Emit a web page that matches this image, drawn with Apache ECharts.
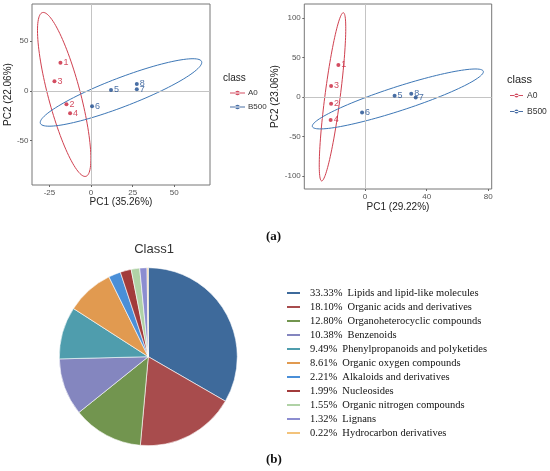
<!DOCTYPE html>
<html>
<head>
<meta charset="utf-8">
<script src="https://cdn.jsdelivr.net/npm/echarts@6/dist/echarts.min.js"></script>
<style>html,body{margin:0;padding:0;background:#fff}#c{width:550px;height:471px}</style>
</head>
<body>
<div id="c"></div>
<script>
// ---- Data: PCA panel 1 (left) ----
const pca1A0 = [[-18.4, 28.5, '1'], [-22, 9.7, '3'], [-14.8, -13.4, '2'], [-12.6, -22.4, '4']];
const pca1B500 = [[0.6, -15.4, '6'], [12, 1, '5'], [27.5, 7, '8'], [27.5, 1.7, '7']];
// ellipse: [centerX, centerY, uX, uY, vX, vY] (conjugate half-diameters)
const pca1Ellipses = [[-16.15, -3.5, -12.55, 82.5, 10, 0], [18, -1.5, 48.55, 30.2, 0, 15.5]];
const pca1XTicks = [-25, 0, 25, 50];
const pca1YTicks = [-50, 0, 50];
const pca1Range = [-35.5, 71.5, -94.6, 87.5];

// ---- Data: PCA panel 2 (right) ----
const pca2A0 = [[-17.3, 40.5, '1'], [-22, 13.9, '3'], [-22, -8.5, '2'], [-22.3, -29, '4']];
const pca2B500 = [[-1.9, -19.8, '6'], [19.2, 1.7, '5'], [30, 4.2, '8'], [32.9, -0.8, '7']];
const pca2Ellipses = [[-21.1, 0.2, 7, 106.5, 5, 0], [21.3, -2.5, 55.5, 34.4, 0, 16]];
const pca2XTicks = [0, 40, 80];
const pca2YTicks = [-100, -50, 0, 50, 100];
const pca2Range = [-39.4, 82.2, -116.5, 117.7];

// ---- Data: pie ----
const classNames = ['Lipids and lipid-like molecules', 'Organic acids and derivatives', 'Organoheterocyclic compounds',
  'Benzenoids', 'Phenylpropanoids and polyketides', 'Organic oxygen compounds', 'Alkaloids and derivatives',
  'Nucleosides', 'Organic nitrogen compounds', 'Lignans', 'Hydrocarbon derivatives'];
const classShares = [33.33, 18.10, 12.80, 10.38, 9.49, 8.61, 2.21, 1.99, 1.55, 1.32, 0.22];

// ---- Styles ----
const pieColors = ['#3E6A9B', '#A84C4D', '#72954F', '#8486BF', '#4F9DAD', '#E19A50', '#4A8FD8', '#A23B3B', '#B0D2A6', '#8C8DD0', '#F3C37B'];
const redPt = '#C8203A', bluePt = '#1B4B8E', redEl = '#D0404F', blueEl = '#3D77B6';
const sans = 'Liberation Sans, Arial, sans-serif';

const chart = echarts.init(document.getElementById('c'), null, {renderer: 'canvas'});

function ellipseItem(params, api) {
  const cx = api.value(0), cy = api.value(1), ux = api.value(2), uy = api.value(3), vx = api.value(4), vy = api.value(5);
  const pts = [];
  for (let i = 0; i <= 120; i++) {
    const t = i / 120 * Math.PI * 2;
    pts.push(api.coord([cx + Math.cos(t) * ux + Math.sin(t) * vx, cy + Math.cos(t) * uy + Math.sin(t) * vy]));
  }
  return {type: 'polyline', shape: {points: pts}, style: {fill: null, stroke: api.visual('color'), lineWidth: 1}};
}

function axis(idx, mn, mx, ticks, name, nameGap) {
  return {gridIndex: idx, type: 'value', min: mn, max: mx, name: name, nameLocation: 'middle', nameGap: nameGap,
    nameTextStyle: {fontFamily: sans, fontSize: 10, color: '#222'},
    axisLine: {show: false, onZero: false}, splitLine: {show: false},
    axisTick: {show: true, length: 2, customValues: ticks, lineStyle: {color: '#666'}},
    axisLabel: {customValues: ticks, fontFamily: sans, fontSize: 8, color: '#555', margin: 3.5}};
}
function pts(name, data, color, xi, range) {
  const s = {name: name, type: 'scatter', xAxisIndex: xi, yAxisIndex: xi, data: data, symbol: 'circle', symbolSize: 4,
    itemStyle: {color: color}, z: 5,
    label: {show: true, position: 'right', distance: 1, formatter: p => p.data[2], fontFamily: sans, fontSize: 9, color: color}};
  if (range) {
    s.markLine = {silent: true, symbol: ['none', 'none'], label: {show: false}, animation: false,
      lineStyle: {color: '#c4c4c4', width: 1, type: 'solid'},
      data: [[{coord: [0, range[2]]}, {coord: [0, range[3]]}], [{coord: [range[0], 0]}, {coord: [range[1], 0]}]]};
  }
  return s;
}
function ell(data, xi, colors) {
  return {type: 'custom', xAxisIndex: xi, yAxisIndex: xi, renderItem: ellipseItem, z: 3, silent: true,
    data: data.map((d, i) => ({value: d, itemStyle: {color: colors[i]}})), clip: true};
}
const legendIcon = 'path://M0,3.5 L16,3.5 L16,4.5 L0,4.5 Z M5.5,4 A2.5,2.5 0 1,0 10.5,4 A2.5,2.5 0 1,0 5.5,4 Z';

const option = {
  animation: false,
  color: pieColors,
  grid: [
    {left: 32, top: 4, width: 178, height: 181, show: true, borderColor: '#777', borderWidth: 1, backgroundColor: '#fff'},
    {left: 304.3, top: 4, width: 187.4, height: 185, show: true, borderColor: '#777', borderWidth: 1, backgroundColor: '#fff'}
  ],
  xAxis: [axis(0, pca1Range[0], pca1Range[1], pca1XTicks, 'PC1 (35.26%)', 11), axis(1, pca2Range[0], pca2Range[1], pca2XTicks, 'PC1 (29.22%)', 13)],
  yAxis: [axis(0, pca1Range[2], pca1Range[3], pca1YTicks, 'PC2 (22.06%)', 19), axis(1, pca2Range[2], pca2Range[3], pca2YTicks, 'PC2 (23.06%)', 24)],
  title: [{text: 'Class1', left: 149, top: 238, textAlign: 'center',
    textStyle: {fontFamily: sans, fontSize: 13, fontWeight: 'normal', color: '#333'}}],
  legend: [
    {data: ['A0', 'B500'], orient: 'vertical', left: 225, top: 84, icon: legendIcon, itemWidth: 15, itemHeight: 5, itemGap: 6,
      textStyle: {fontFamily: sans, fontSize: 8, color: '#333', padding: [0, 0, 0, -2]}, selectedMode: false},
    {data: ['A0', 'B500'], orient: 'vertical', left: 505, top: 86, icon: legendIcon, itemWidth: 13, itemHeight: 5, itemGap: 7,
      textStyle: {fontFamily: sans, fontSize: 8.5, color: '#333', padding: [0, 0, 0, -1]}, selectedMode: false},
    {data: classNames, orient: 'vertical', left: 280, top: 282, icon: 'rect', itemWidth: 15, itemHeight: 4, itemGap: 2,
      selectedMode: false,
      formatter: n => classShares[classNames.indexOf(n)].toFixed(2) + '%  ' + n,
      textStyle: {fontFamily: 'Liberation Serif, Times New Roman, serif', fontSize: 10.5, lineHeight: 12, color: '#111', padding: [0, 0, 0, 4]}}
  ],
  graphic: [
    {type: 'text', left: 223, top: 73, style: {text: 'class', font: '10px ' + sans, fill: '#222'}},
    {type: 'text', left: 507, top: 74, style: {text: 'class', font: '11px ' + sans, fill: '#222'}},
    {type: 'text', left: 266, top: 230, style: {text: '(a)', font: 'bold 13px Liberation Serif, serif', fill: '#111'}},
    {type: 'text', left: 266, top: 453, style: {text: '(b)', font: 'bold 13px Liberation Serif, serif', fill: '#111'}}
  ],
  series: [
    ell(pca1Ellipses, 0, [redEl, blueEl]),
    pts('A0', pca1A0, redPt, 0, pca1Range),
    pts('B500', pca1B500, bluePt, 0, null),
    ell(pca2Ellipses, 1, [redEl, blueEl]),
    pts('A0', pca2A0, redPt, 1, pca2Range),
    pts('B500', pca2B500, bluePt, 1, null),
    {type: 'pie', center: [148.3, 356.7], radius: 89, startAngle: 90, clockwise: true,
      label: {show: false}, labelLine: {show: false}, silent: true,
      itemStyle: {borderColor: '#fff', borderWidth: 0.6},
      data: classNames.map((n, i) => ({name: n, value: classShares[i]}))}
  ]
};
chart.setOption(option);
</script>
</body>
</html>
